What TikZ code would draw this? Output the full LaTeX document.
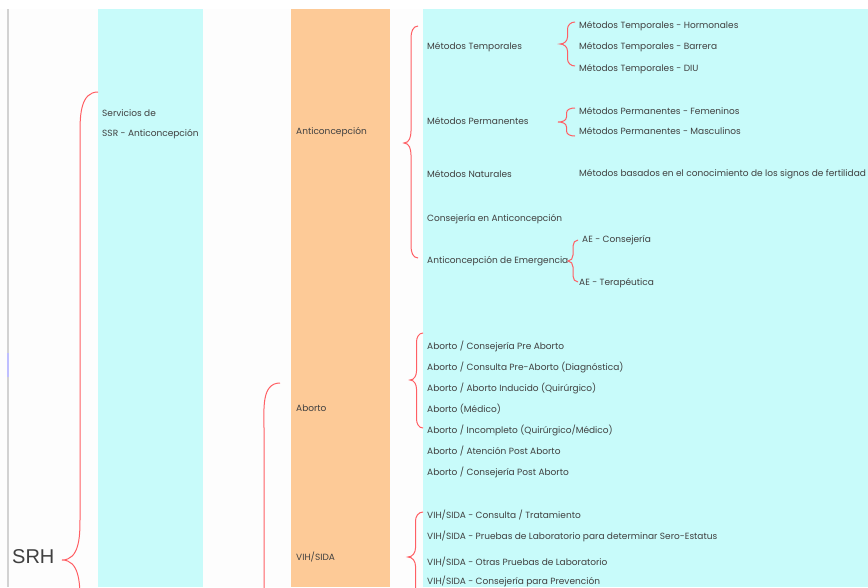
\documentclass[tikz,border=0pt]{standalone}
\usepackage{fontspec}
\setmainfont{Poppins}
\newfontfamily\arialfont{Liberation Sans}
\usetikzlibrary{calc}
\definecolor{cyanbg}{RGB}{200,251,250}
\definecolor{peach}{RGB}{253,202,151}
\definecolor{bracered}{RGB}{255,95,100}
\definecolor{txtgray}{RGB}{64,64,64}
\definecolor{pagebg}{RGB}{253,253,253}

\tikzset{
  lbl/.style={anchor=west,inner sep=0pt,text=txtgray,font=\fontsize{9}{10}\selectfont},
  bigtxt/.style={anchor=west,inner sep=0pt,text=txtgray,font=\arialfont\fontsize{20}{22}\selectfont},
  brace/.style={draw=bracered,line width=1pt}
}

% curly brace: top end, tip, bottom end, curl radius
\newcommand\curly[4]{%
  \draw[brace] let \p1=(#1), \p2=(#2), \p3=(#3), \p4=($(#1)!0.5!(#2)$) in
    (\p1) to[out=180,in=90] (\x4,\y1-#4) -- (\x4,\y2+#4) to[out=-90,in=0] (\p2)
    to[out=0,in=90] (\x4,\y2-#4) -- (\x4,\y3+#4) to[out=-90,in=180] (\p3);}

\begin{document}
\begin{tikzpicture}[x=1pt,y=-1pt]
  \useasboundingbox (0,0) rectangle (868,587);
  \clip (0,0) rectangle (868,587);

  % columns
  \fill[white] (0,0) rectangle (868,587);
  \fill[pagebg] (0,9) rectangle (868,587);
  \draw[gray!35,line width=1.2pt] (8,9) -- (8,587);
  \draw[blue!25,line width=1.2pt] (8,353) -- (8,377);
  \fill[cyanbg] (98,9) rectangle (203,587);
  \fill[peach] (291,9) rectangle (390,587);
  \fill[cyanbg] (423,9) rectangle (868,587);

  % level 0 and 1
  \node[bigtxt] (srh) at (12,557) {SRH};
  \node[lbl] (srv1) at (102,113) {Servicios de};
  \node[lbl] (srv2) at (102,134) {SSR - Anticoncepción};

  % level 2
  \node[lbl] (anti) at (296,132) {Anticoncepción};
  \node[lbl] (abo) at (296,408) {Aborto};
  \node[lbl] (vih) at (296,557) {VIH/SIDA};

  % level 3: anticoncepcion
  \node[lbl] (mt) at (427,47) {Métodos Temporales};
  \node[lbl] (mp) at (427,121) {Métodos Permanentes};
  \node[lbl] (mn) at (427,174) {Métodos Naturales};
  \node[lbl] (cons) at (427,219) {Consejería en Anticoncepción};
  \node[lbl] (ae) at (427,261) {Anticoncepción de Emergencia};

  % level 4
  \node[lbl] (mtH) at (579,26) {Métodos Temporales - Hormonales};
  \node[lbl] (mtB) at (579,47) {Métodos Temporales - Barrera};
  \node[lbl] (mtD) at (579,69) {Métodos Temporales - DIU};
  \node[lbl] (mpF) at (579,111) {Métodos Permanentes - Femeninos};
  \node[lbl] (mpM) at (579,131) {Métodos Permanentes - Masculinos};
  \node[lbl] (mnB) at (579,174) {Métodos basados en el conocimiento de los signos de fertilidad};
  \node[lbl] (aeC) at (582,240) {AE - Consejería};
  \node[lbl] (aeT) at (579,283) {AE - Terapéutica};

  % level 3: aborto
  \node[lbl] (ab1) at (427,346) {Aborto / Consejería Pre Aborto};
  \node[lbl] (ab2) at (427,367) {Aborto / Consulta Pre-Aborto (Diagnóstica)};
  \node[lbl] (ab3) at (427,388) {Aborto / Aborto Inducido (Quirúrgico)};
  \node[lbl] (ab4) at (427,409) {Aborto (Médico)};
  \node[lbl] (ab5) at (427,430) {Aborto / Incompleto (Quirúrgico/Médico)};
  \node[lbl] (ab6) at (427,451) {Aborto / Atención Post Aborto};
  \node[lbl] (ab7) at (427,472) {Aborto / Consejería Post Aborto};

  % level 3: vih
  \node[lbl] (vh1) at (427,515) {VIH/SIDA - Consulta / Tratamiento};
  \node[lbl] (vh2) at (427,536) {VIH/SIDA - Pruebas de Laboratorio para determinar Sero-Estatus};
  \node[lbl] (vh3) at (427,562) {VIH/SIDA - Otras Pruebas de Laboratorio};
  \node[lbl] (vh4) at (427,581) {VIH/SIDA - Consejería para Prevención};

  % brace ends
  \coordinate (srhTop) at (98,92);   \coordinate (srhTip) at (62,560);  \coordinate (srhBot) at (98,1028);
  \coordinate (grpTop) at (280,383); \coordinate (grpTip) at (248,760); \coordinate (grpBot) at (280,1137);
  \coordinate (antTop) at (418,26);  \coordinate (antTip) at (404,143); \coordinate (antBot) at (418,258);
  \coordinate (mtTop) at (575,22);   \coordinate (mtTip) at (560,44);   \coordinate (mtBot) at (575,66);
  \coordinate (mpTop) at (575,108);  \coordinate (mpTip) at (558,122);  \coordinate (mpBot) at (575,136);
  \coordinate (aeTop) at (578,240);  \coordinate (aeTip) at (568,261);  \coordinate (aeBot) at (578,282);
  \coordinate (aboTop) at (423,333); \coordinate (aboTip) at (410,380); \coordinate (aboBot) at (423,428);
  \coordinate (vihTop) at (423,512); \coordinate (vihTip) at (408,557); \coordinate (vihBot) at (423,602);

  \curly{srhTop}{srhTip}{srhBot}{40pt}
  \curly{grpTop}{grpTip}{grpBot}{45pt}
  \curly{antTop}{antTip}{antBot}{12pt}
  \curly{mtTop}{mtTip}{mtBot}{7pt}
  \curly{mpTop}{mpTip}{mpBot}{5pt}
  \curly{aeTop}{aeTip}{aeBot}{6pt}
  \curly{aboTop}{aboTip}{aboBot}{9pt}
  \curly{vihTop}{vihTip}{vihBot}{9pt}
\end{tikzpicture}
\end{document}
